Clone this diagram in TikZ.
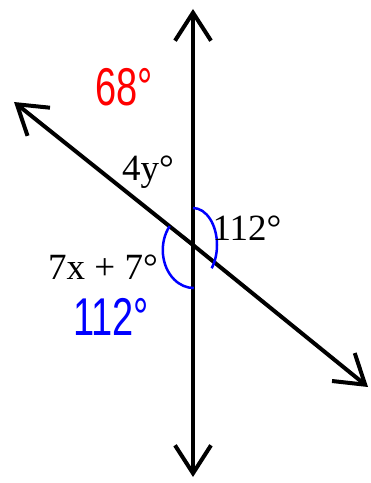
\documentclass[tikz,border=0pt]{standalone}
\usepackage{fontspec}
\setmainfont{Liberation Serif}
\newfontfamily\handfont{Liberation Sans}
\usetikzlibrary{arrows.meta}
\tikzset{
  droite/.style={line width=4pt,-{Straight Barb[length=28pt,width=36pt]}},
  etiquette/.style={font=\fontsize{37}{42}\selectfont,inner sep=0pt},
  main/.style={font=\handfont\fontsize{38}{44}\selectfont,inner sep=0pt,yscale=1.4,transform shape},
  arcbleu/.style={blue,line width=2.5pt}
}
\begin{document}
\begin{tikzpicture}[x=1pt,y=1pt]
            \useasboundingbox (0,0) rectangle (371,483);
            \coordinate (O) at (193,238);
            \coordinate (haut) at (193,474);
            \coordinate (bas) at (193,6);
            \coordinate (gauche) at (14,381);
            \coordinate (droit) at (368,96);
            \draw[droite] (O) -- (haut);
            \draw[droite] (O) -- (bas);
            \draw[droite] (O) -- (gauche);
            \draw[droite] (O) -- (droit);
            \draw[arcbleu] (O) ++(0,37) arc[start angle=90,end angle=-39,x radius=24,y radius=37];
            \draw[arcbleu] (O) ++(141:30) arc[start angle=141,end angle=270,x radius=31,y radius=38];
            \node[etiquette] (ang4y) at (148,311) {4y°};
            \node[etiquette] (ang112) at (247,255) {112°};
            \node[etiquette] (ang7x) at (103,216) {7x + 7°};
            \node[main,red] (rouge68) at (124,396) {68°};
            \node[main,blue] (bleu112) at (111,166) {112°};
        \end{tikzpicture}
\end{document}
